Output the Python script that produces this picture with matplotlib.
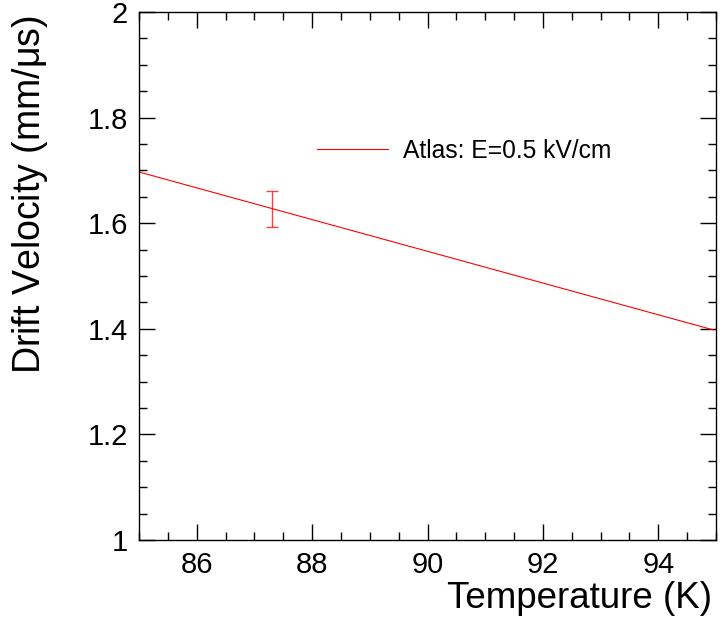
import numpy as np
import matplotlib
matplotlib.use("Agg")
import matplotlib.pyplot as plt
from matplotlib.ticker import MultipleLocator, FormatStrFormatter

plt.rcParams['font.family'] = ['Liberation Sans', 'DejaVu Sans']

# ---------- data ----------
temp_line = [85.0, 94.95]          # K
vel_line = [1.697, 1.398]          # mm/us
point_T = [87.3]
point_v = [1.627]
point_err = [0.034]
legend_label = "Atlas: E=0.5 kV/cm"

fig = plt.figure(figsize=(7.22, 6.3), dpi=100)
ax = fig.add_axes([139/722, 1 - 540/630, 577/722, 528/630])

ax.plot(temp_line, vel_line, color="red", lw=0.8, label=legend_label)
ax.errorbar(point_T, point_v, yerr=point_err, fmt="none", ecolor="red",
            elinewidth=1.0, capsize=4, capthick=1.0, alpha=0.75)

ax.set_xlim(85, 95)
ax.set_ylim(1, 2)
ax.xaxis.set_major_locator(MultipleLocator(2))
ax.xaxis.set_minor_locator(MultipleLocator(0.5))
ax.yaxis.set_major_locator(MultipleLocator(0.2))
ax.yaxis.set_minor_locator(MultipleLocator(0.05))
ax.yaxis.set_major_formatter(FormatStrFormatter("%g"))
ax.tick_params(which="both", direction="in", top=True, right=True,
               labelsize=21, width=1.0)
ax.tick_params(which="major", length=11.5, pad=8)
ax.tick_params(which="minor", length=5.8)
for s in ax.spines.values():
    s.set_linewidth(1.0)

fig.text(712/722, 1 - 598/630, "Temperature (K)", fontsize=26.5,
         ha="right", va="center")
fig.text(30/722, 1 - 15/630, r"Drift Velocity (mm/$\mathregular{\mu}$s)",
         fontsize=27, rotation=90, ha="center", va="top")

ax.legend(loc="center left", bbox_to_anchor=(317/722, 1 - 151/630),
          bbox_transform=fig.transFigure, frameon=False, fontsize=17.7,
          handlelength=2.9, handletextpad=0.6, borderpad=0,
          borderaxespad=0)

fig.savefig("out.png", dpi=100)
